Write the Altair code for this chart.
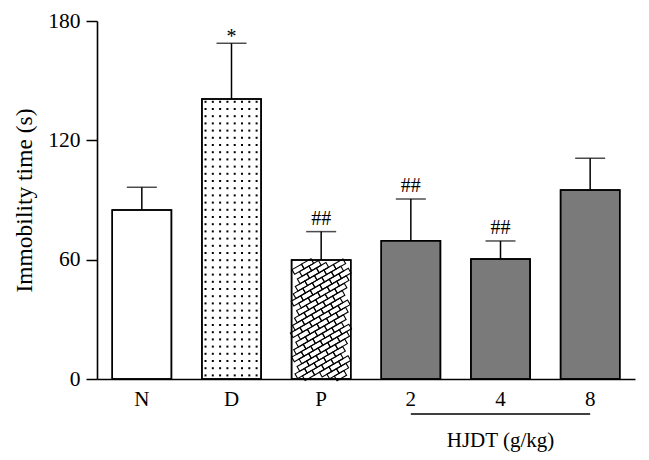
import altair as alt
import numpy as np
import pandas as pd

# ---- data ----
groups = ["N", "D", "P", "2", "4", "8"]
means = [85.0, 140.8, 59.8, 69.5, 60.3, 95.0]
errors = [11.4, 28.0, 14.3, 21.0, 9.1, 16.0]
signif = ["", "*", "##", "##", "##", ""]
y_ticks = [0, 60, 120, 180]
group_label = "HJDT (g/kg)"
group_first, group_mid, group_last = "2", "4", "8"

# ---- styles ----
bar_fills = ["#ffffff", "#ffffff", "#ffffff", "#7a7a7a", "#7a7a7a", "#7a7a7a"]
FONT = "Liberation Serif"
W, H = 538, 358
PAD_IN, PAD_OUT = 0.34, 0.17
STEP = W / (len(groups) - PAD_IN + 2 * PAD_OUT)
BANDW = STEP * (1 - PAD_IN)
PX = H / 180.0  # pixels per data unit

def band_start(g):
    return STEP * (PAD_OUT + groups.index(g))

df = pd.DataFrame({"group": groups, "mean": means, "err": errors, "sig": signif})
df["top"] = df["mean"] + df["err"]

# ---- texture layers (fill patterns of D and P bars) ----
dots = []
d_top = means[groups.index("D")] * PX
x0 = band_start("D")
for cx in np.arange(3.6, BANDW - 3.0, 7.3):
    for cy in np.arange(3.6, d_top - 2.5, 7.2):
        dots.append({"px": x0 + cx, "ty": cy / PX})
dots_df = pd.DataFrame(dots)

bricks = []
p_top = means[groups.index("P")] * PX
x0 = band_start("P")
LU, LV, ANG = 11.0, 5.4, np.radians(30)
u = np.array([np.cos(ANG), np.sin(ANG)])
v = np.array([-np.sin(ANG), np.cos(ANG)])
for i in range(-20, 30):
    for j in range(-10, 40):
        c = (i + 0.5 * (j % 2)) * LU * u + j * LV * v
        if 4.8 <= c[0] <= BANDW - 4.8 and 3.0 <= c[1] <= p_top - 3.0:
            bricks.append({"px": x0 + c[0], "ty": c[1] / PX})
bricks_df = pd.DataFrame(bricks)

group_df = pd.DataFrame({"start": [group_first], "end": [group_last],
                         "mid": [group_mid], "label": [group_label]})

xscale = alt.Scale(domain=groups, paddingInner=PAD_IN, paddingOuter=PAD_OUT)
xaxis = alt.Axis(title=None, ticks=False, labelAngle=0, labelFontSize=21,
                 labelFont=FONT, labelColor="black",
                 labelPadding=9, domainWidth=1.6, domainColor="black")
X = alt.X("group:N", scale=xscale, sort=groups, axis=xaxis)
Xn = alt.X("group:N", scale=xscale, sort=groups, axis=None)
XP = alt.X("px:Q", scale=alt.Scale(domain=[0, W], nice=False, zero=False), axis=None)
YT = "Immobility time (s)"
yscale = alt.Scale(domain=[0, 180], nice=False, zero=True)
yaxis = alt.Axis(values=y_ticks, grid=False, tickSize=11, tickWidth=1.5, tickColor="black",
                 domainWidth=1.6, domainColor="black", labelFontSize=21.5, labelPadding=6,
                 labelFont=FONT, labelColor="black", titleFont=FONT, titleColor="black",
                 titleFontSize=23.5, titlePadding=11, titleFontWeight="normal")
Yn = lambda f: alt.Y(f, scale=yscale, axis=yaxis, title=YT)

base = alt.Chart(df)
bars = base.mark_bar(stroke="black", strokeWidth=1.5).encode(
    x=X,
    y=Yn("mean:Q"),
    fill=alt.Fill("group:N", scale=alt.Scale(domain=groups, range=bar_fills), legend=None),
)
dot_layer = alt.Chart(dots_df).mark_square(size=4, color="black", opacity=1).encode(
    x=XP, y=Yn("ty:Q")
)
brick_layer = alt.Chart(bricks_df).mark_point(
    shape="M-1,-0.49L1,-0.49L1,0.49L-1,0.49Z", size=LU * LU, angle=330,
    filled=False, stroke="black", strokeWidth=1.1, opacity=1
).encode(x=XP, y=Yn("ty:Q"))
outline = base.mark_bar(fillOpacity=0, stroke="black", strokeWidth=1.5).encode(
    x=Xn, y=Yn("mean:Q")
)
err = base.mark_rule(color="black", strokeWidth=1.5).encode(
    x=Xn, y=Yn("mean:Q"), y2="top:Q"
)
caps = base.mark_tick(orient="horizontal", size=30, thickness=1.5, color="black").encode(
    x=Xn, y=Yn("top:Q")
)
sig_hash = base.transform_filter(alt.datum.sig == "##").mark_text(
    font=FONT, fontSize=20, baseline="bottom", dy=-3, color="black"
).encode(x=Xn, y=Yn("top:Q"), text="sig:N")
sig_star = base.transform_filter(alt.datum.sig == "*").mark_text(
    font=FONT, fontSize=20, baseline="bottom", dy=4, color="black"
).encode(x=Xn, y=Yn("top:Q"), text="sig:N")
grp_rule = alt.Chart(group_df).mark_rule(color="black", strokeWidth=1.6).encode(
    x=alt.X("start:N", scale=xscale, axis=None), x2="end:N", y=alt.value(H + 35)
)
grp_text = alt.Chart(group_df).mark_text(font=FONT, fontSize=21, baseline="alphabetic",
                                         color="black").encode(
    x=alt.X("mid:N", scale=xscale, axis=None), y=alt.value(H + 68), text="label:N"
)

chart = alt.layer(bars, dot_layer, brick_layer, outline, err, caps, sig_hash, sig_star,
                  grp_rule, grp_text).resolve_scale(
    x="independent"
).properties(
    width=W, height=H,
    autosize=alt.AutoSizeParams(type="none"),
    padding={"left": 89, "top": 13, "right": 5, "bottom": 80},
).configure_view(stroke=None)

chart.save("out.html", embed_options={"renderer": "svg", "actions": False})
